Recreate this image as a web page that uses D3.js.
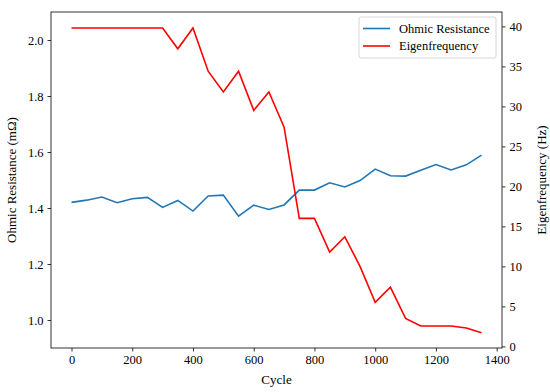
<!DOCTYPE html>
<html>
<head>
<meta charset="utf-8">
<script src="https://cdn.jsdelivr.net/npm/d3@7"></script>
<style>
  body { margin: 0; background: #fff; }
  text { font-family: "Liberation Serif", "Times New Roman", serif; }
</style>
</head>
<body>
<div id="chart"></div>
<script>
// data
const cycles = [0, 50, 100, 150, 200, 250, 300, 350, 400, 450, 500, 550, 600, 650,
  700, 750, 800, 850, 900, 950, 1000, 1050, 1100, 1150, 1200, 1250, 1300, 1350];
const resistance = [1.420, 1.428, 1.439, 1.419, 1.433, 1.438, 1.402, 1.427, 1.389, 1.443,
  1.446, 1.371, 1.410, 1.395, 1.411, 1.464, 1.464, 1.490, 1.475, 1.498, 1.539, 1.515,
  1.514, 1.535, 1.555, 1.536, 1.554, 1.589];
const eigenfreq = [39.8, 39.8, 39.8, 39.8, 39.8, 39.8, 39.8, 37.2, 39.8, 34.4, 31.8, 34.4,
  29.5, 31.8, 27.4, 16.0, 16.0, 11.8, 13.7, 10.0, 5.5, 7.4, 3.5, 2.55, 2.55, 2.55, 2.3, 1.7];
const xTicks = [0, 200, 400, 600, 800, 1000, 1200, 1400];
const leftTicks = [1.0, 1.2, 1.4, 1.6, 1.8, 2.0];
const rightTicks = [0, 5, 10, 15, 20, 25, 30, 35, 40];

const width = 550, height = 392;
const margin = { top: 12, right: 48, bottom: 44, left: 51 };
const w = width - margin.left - margin.right;
const h = height - margin.top - margin.bottom;
const fs = "12.5px";
const titleFs = "13px";

const svg = d3.select("#chart").append("svg")
  .attr("width", width)
  .attr("height", height);
const g = svg.append("g").attr("transform", `translate(${margin.left},${margin.top})`);

const x = d3.scaleLinear().domain([-67.5, 1417.5]).range([0, w]);
const yL = d3.scaleLinear().domain([0.9, 2.1]).range([h, 0]);
const yR = d3.scaleLinear().domain([-0.2, 41.8]).range([h, 0]);

function styleAxis(sel) {
  sel.selectAll("text").style("font-size", fs).attr("fill", "#000");
  sel.selectAll("line").attr("stroke", "#000").attr("stroke-width", 0.8);
  sel.select(".domain").remove();
}

g.append("g").attr("transform", `translate(0,${h})`)
  .call(d3.axisBottom(x).tickValues(xTicks).tickFormat(d3.format("d")).tickSize(3.5).tickPadding(4))
  .call(styleAxis);
g.append("g")
  .call(d3.axisLeft(yL).tickValues(leftTicks).tickFormat(d3.format(".1f")).tickSize(3.5).tickPadding(4))
  .call(styleAxis);
g.append("g").attr("transform", `translate(${w},0)`)
  .call(d3.axisRight(yR).tickValues(rightTicks).tickFormat(d3.format("d")).tickSize(3.5).tickPadding(4))
  .call(styleAxis);

// lines
const lineL = d3.line().x((d, i) => x(cycles[i])).y(d => yL(d));
const lineR = d3.line().x((d, i) => x(cycles[i])).y(d => yR(d));
g.append("path").datum(resistance).attr("d", lineL)
  .attr("fill", "none").attr("stroke", "#1f77b4").attr("stroke-width", 1.6);
g.append("path").datum(eigenfreq).attr("d", lineR)
  .attr("fill", "none").attr("stroke", "red").attr("stroke-width", 1.6);

// frame
g.append("rect").attr("width", w).attr("height", h)
  .attr("fill", "none").attr("stroke", "#000").attr("stroke-width", 0.8);

// axis titles, centred on the axes
svg.append("text").attr("x", margin.left + w / 2).attr("y", 384)
  .attr("text-anchor", "middle").style("font-size", titleFs).text("Cycle");
svg.append("text")
  .attr("transform", `translate(16,${margin.top + h / 2}) rotate(-90)`)
  .attr("text-anchor", "middle").style("font-size", titleFs).text("Ohmic Resistance (mΩ)");
svg.append("text")
  .attr("transform", `translate(546,${margin.top + h / 2}) rotate(-90)`)
  .attr("text-anchor", "middle").style("font-size", titleFs).text("Eigenfrequency (Hz)");

// legend
const legend = svg.append("g").attr("transform", "translate(359,17)");
legend.append("rect").attr("width", 137).attr("height", 41).attr("rx", 2)
  .attr("fill", "#fff").attr("fill-opacity", 0.8).attr("stroke", "#ccc").attr("stroke-width", 0.8);
const items = [["Ohmic Resistance", "#1f77b4"], ["Eigenfrequency", "red"]];
items.forEach(([label, color], i) => {
  const yy = 11.5 + i * 17.5;
  legend.append("line").attr("x1", 4).attr("x2", 31).attr("y1", yy).attr("y2", yy)
    .attr("stroke", color).attr("stroke-width", 1.6);
  legend.append("text").attr("x", 40).attr("y", yy + 4)
    .style("font-size", fs).text(label);
});
</script>
</body>
</html>
